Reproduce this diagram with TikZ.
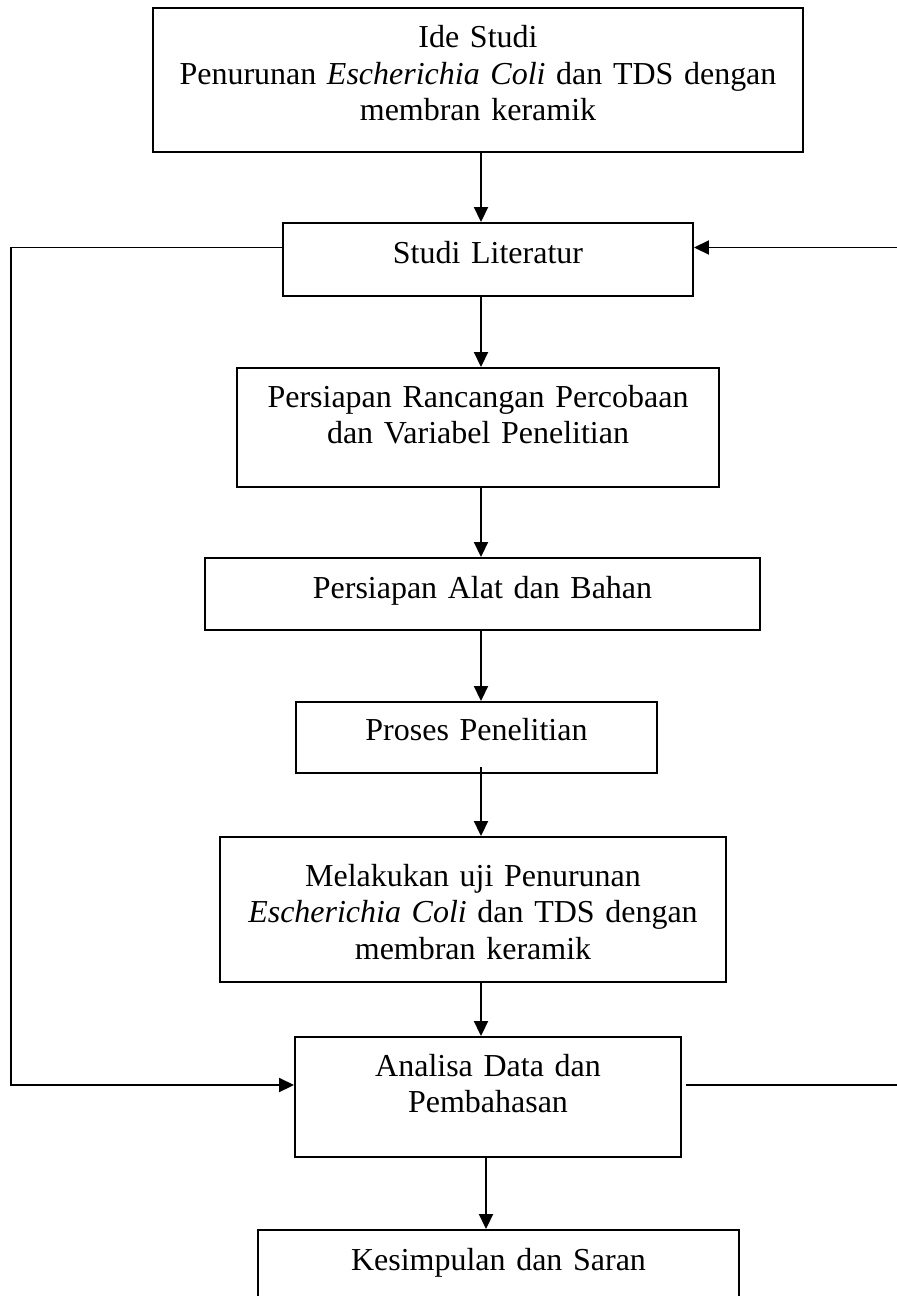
\documentclass[tikz,border=0pt]{standalone}
\usepackage{fontspec}
\setmainfont{Liberation Serif}
\usetikzlibrary{arrows.meta}

\begin{document}
\begin{tikzpicture}[> = {Triangle[length=0.3cm,width=0.28cm]},
    kotak/.style = {draw, line width = 1.1pt, inner sep = 0pt, align = center, font = \fontsize{18.2pt}{20.8pt}\selectfont},
    garis/.style = {->, line width = 1.1pt}]
    \useasboundingbox (0,0) rectangle (17.92,-25.92);
    % kotak-kotak alur penelitian
    \node at (9.56,-1.60) [kotak, text width = 13cm, text height = 0.79cm, text depth = 2.09cm] (ide) {Ide Studi\\Penurunan \textit{Escherichia Coli} dan TDS dengan\\membran keramik};
    \node at (9.76,-5.19) [kotak, text width = 8.2cm, text height = 0.80cm, text depth = 0.66cm] (lit) {Studi Literatur};
    \node at (9.56,-8.55) [kotak, text width = 9.64cm, text height = 0.78cm, text depth = 1.60cm] (ranc) {Persiapan Rancangan Percobaan\\dan Variabel Penelitian};
    \node at (9.65,-11.88) [kotak, text width = 11.1cm, text height = 0.80cm, text depth = 0.64cm] (alat) {Persiapan Alat dan Bahan};
    \node at (9.53,-14.75) [kotak, text width = 7.22cm, text height = 0.76cm, text depth = 0.66cm] (proses) {Proses Penelitian};
    \node at (9.46,-18.19) [kotak, text width = 10.12cm, text height = 0.98cm, text depth = 1.92cm] (uji) {Melakukan uji Penurunan\\\textit{Escherichia Coli} dan TDS dengan\\membran keramik};
    \node at (9.76,-21.94) [kotak, text width = 7.72cm, text height = 0.78cm, text depth = 1.62cm] (anal) {Analisa Data dan\\Pembahasan};
    \node at (9.97,-25.32) [kotak, text width = 9.62cm, text height = 0.80cm, text depth = 0.64cm] (simp) {Kesimpulan dan Saran};
    % panah utama
    \coordinate (sumbu) at (9.62,0);
    \draw[garis] (ide.south -| sumbu) -- (lit.north -| sumbu);
    \draw[garis] (lit.south -| sumbu) -- (ranc.north -| sumbu);
    \draw[garis] (ranc.south -| sumbu) -- (alat.north -| sumbu);
    \draw[garis] (alat.south -| sumbu) -- (proses.north -| sumbu);
    \draw[garis] ([yshift=0.14cm]proses.south -| sumbu) -- (uji.north -| sumbu);
    \draw[garis] (uji.south -| sumbu) -- (anal.north -| sumbu);
    \draw[garis] ([xshift=0.1cm]anal.south -| sumbu) -- ([xshift=0.1cm]simp.north -| sumbu);
    % umpan balik
    \coordinate (kiri) at (0.22,-12);
    \coordinate (kanan) at (18.3,-12);
    \draw[garis] ([yshift=0.24cm]lit.west) -| (kiri) |- ([yshift=0.24cm]anal.west);
    \draw[garis] ([xshift=0.08cm,yshift=0.24cm]anal.east) -| (kanan) |- ([yshift=0.24cm]lit.east);
\end{tikzpicture}
\end{document}
